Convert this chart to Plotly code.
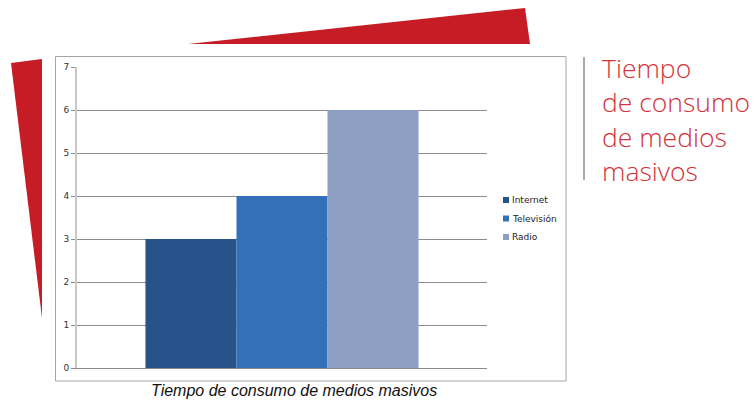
import plotly.graph_objects as go

categories = [""]
series_names = ["Internet", "Televisión", "Radio"]
internet = [3]
television = [4]
radio = [6]
y_ticks = [0, 1, 2, 3, 4, 5, 6, 7]

W, H = 756, 401
def px(x): return x / W
def py(y): return 1 - y / H

colors = ["#27528a", "#3470b8", "#8e9fc4"]
values = [internet, television, radio]

fig = go.Figure()
for name, vals, c in zip(series_names, values, colors):
    fig.add_trace(go.Bar(x=categories, y=vals, name=name, showlegend=False,
                         marker=dict(color=c, line=dict(width=0))))

shapes = [
    # frame
    dict(type="rect", xref="paper", yref="paper", x0=px(55.5), x1=px(566), y0=py(381), y1=py(56.5),
         line=dict(color="#a6a6a6", width=1), layer="below"),
    # left red shape
    dict(type="path", xref="paper", yref="paper",
         path=f"M {px(11)} {py(63)} L {px(42)} {py(59)} L {px(42)} {py(318)} Z",
         fillcolor="#c61c25", line=dict(width=0)),
    # top red shape
    dict(type="path", xref="paper", yref="paper",
         path=f"M {px(188)} {py(44)} L {px(525)} {py(8)} L {px(530)} {py(44)} Z",
         fillcolor="#c61c25", line=dict(width=0)),
    # gray vertical line
    dict(type="line", xref="paper", yref="paper", x0=px(584), x1=px(584), y0=py(57), y1=py(180),
         line=dict(color="#a9a9a9", width=2)),
]

annotations = [
    dict(text="Tiempo de consumo de medios masivos", xref="paper", yref="paper",
         x=px(294), y=py(390), showarrow=False, xanchor="center", yanchor="middle",
         font=dict(family="Liberation Sans", size=16, color="#111111", style="italic")),
]
title_lines = ["Tiempo", "de consumo", "de medios", "masivos"]
for i, t in enumerate(title_lines):
    annotations.append(dict(text=t, xref="paper", yref="paper", x=px(600), y=py(68 + i * 34.3),
                            showarrow=False, xanchor="left", yanchor="middle",
                            font=dict(family="Open Sans", size=26.5, color="#d3333c", weight=300)))

# legend (small square keys next to labels)
for i, (name, c) in enumerate(zip(series_names, colors)):
    yc = 200 + i * 18.5
    shapes.append(dict(type="rect", xref="paper", yref="paper", x0=px(503), x1=px(509),
                       y0=py(yc + 3), y1=py(yc - 3), fillcolor=c, line=dict(width=0)))
    annotations.append(dict(text=name, xref="paper", yref="paper", x=px(510), y=py(yc),
                            showarrow=False, xanchor="left", yanchor="middle",
                            font=dict(family="DejaVu Sans", size=9, color="#222222")))

fig.update_layout(
    width=W, height=H,
    margin=dict(l=0, r=0, t=0, b=0, autoexpand=False),
    paper_bgcolor="white", plot_bgcolor="white",
    barmode="group", bargap=0.334, bargroupgap=0,
    showlegend=False,
    xaxis=dict(domain=[px(77), px(487)], showticklabels=False, showgrid=False, automargin=False,
               showline=True, linecolor="#8c8c8c", linewidth=1, ticks="", zeroline=False),
    yaxis=dict(domain=[py(368), py(67)], range=[0, 7], tickvals=y_ticks, automargin=False,
               showgrid=True, gridcolor="#8c8c8c", gridwidth=1,
               showline=True, linecolor="#c8c8c8", linewidth=2,
               ticks="outside", ticklen=4, tickcolor="#8c8c8c",
               tickfont=dict(family="DejaVu Sans", size=9, color="#333333"),
               zeroline=False),
    shapes=shapes, annotations=annotations,
)

fig.write_html("out.html", config={"displayModeBar": False},
               post_script="document.body.style.margin='0';document.body.style.overflow='hidden';")
